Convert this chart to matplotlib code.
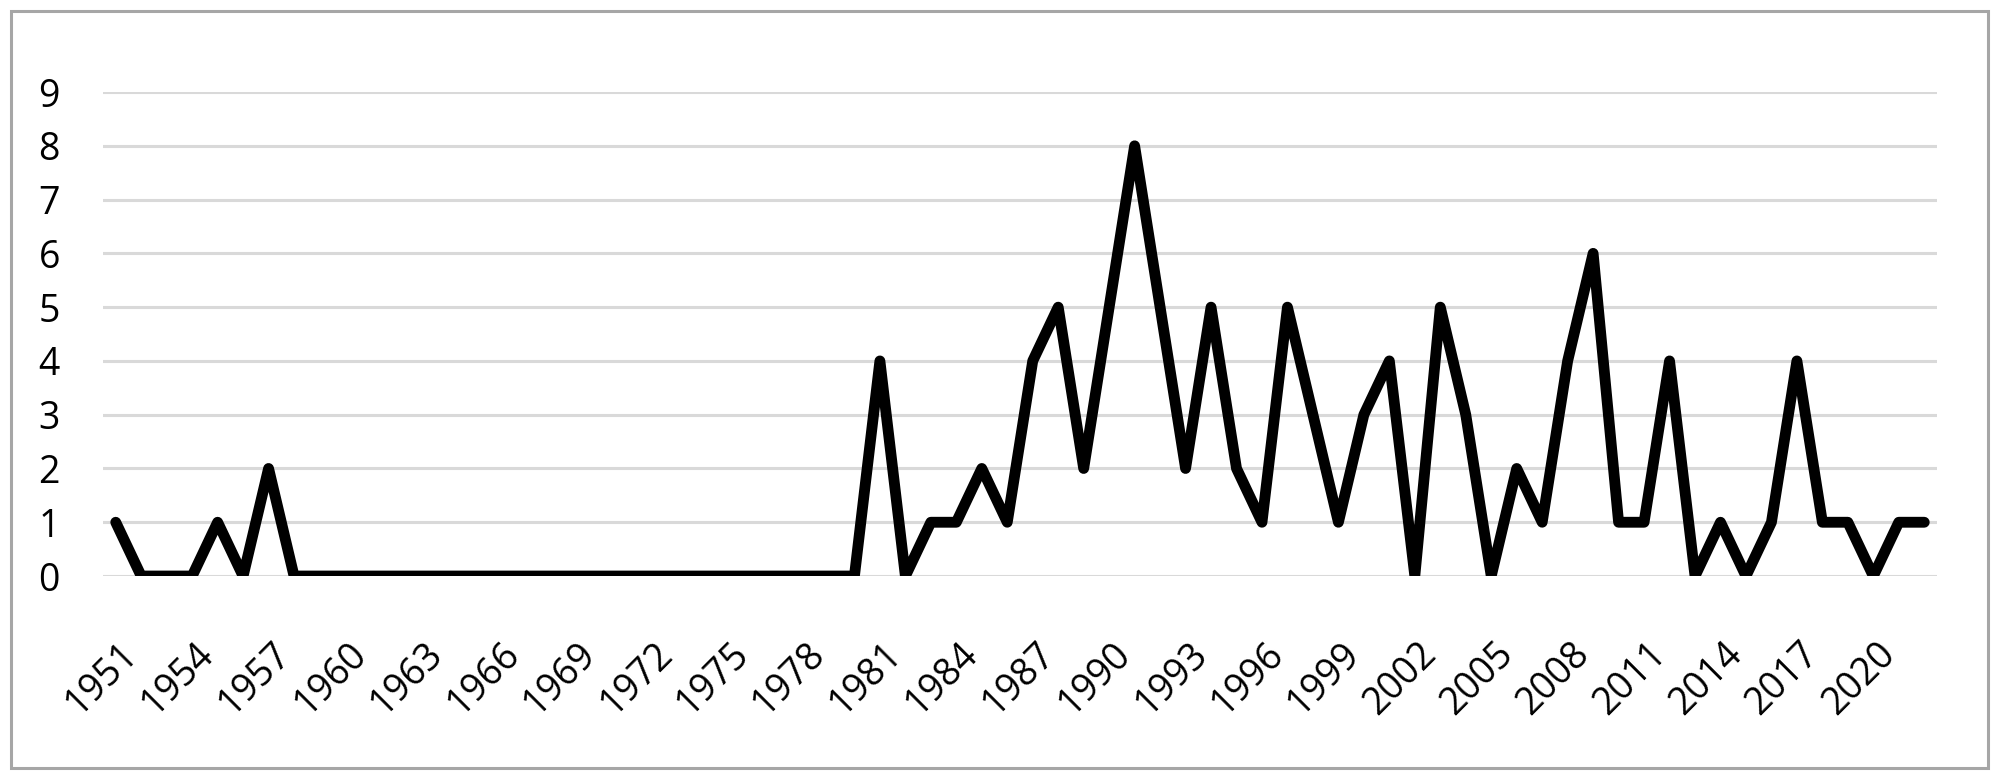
import matplotlib.pyplot as plt
from matplotlib.patches import Rectangle
from matplotlib.transforms import ScaledTranslation

years = list(range(1951, 2023))
counts = [1, 0, 0, 0, 1, 0, 2, 0, 0, 0,
          0, 0, 0, 0, 0, 0, 0, 0, 0, 0,
          0, 0, 0, 0, 0, 0, 0, 0, 0, 0,
          4, 0, 1, 1, 2, 1, 4, 5, 2, 5,
          8, 5, 2, 5, 2, 1, 5, 3, 1, 3,
          4, 0, 5, 3, 0, 2, 1, 4, 6, 1,
          1, 4, 0, 1, 0, 1, 4, 1, 1, 0,
          1, 1]
tick_years = years[::3]
y_ticks = list(range(0, 10))

plt.rcParams['font.family'] = ['Open Sans', 'DejaVu Sans']

fig = plt.figure(figsize=(20, 7.8), dpi=100)
ax = fig.add_axes([0.0515, 0.2615, 0.917, 0.6205])

idx = list(range(len(years)))
ax.plot(idx, counts, color='black', lw=7.8,
        solid_joinstyle='round', solid_capstyle='round', zorder=3)

ax.set_xlim(-0.5, len(years) - 0.5)
ax.set_ylim(0, 9)
ax.set_yticks(y_ticks)
ax.set_yticklabels([str(v) for v in y_ticks], fontsize=27)
ax.set_xticks([years.index(y) for y in tick_years])
ax.set_xticklabels([str(y) for y in tick_years], fontsize=27,
                   rotation=45, ha='right', va='center', rotation_mode='anchor')
ax.tick_params(axis='y', length=0, pad=31)
ax.tick_params(axis='x', length=0, pad=52)
for lab in ax.get_xticklabels():
    lab.set_transform(lab.get_transform() + ScaledTranslation(0.16, 0, fig.dpi_scale_trans))

ax.grid(axis='y', color='#d9d9d9', lw=2.2, zorder=0)
ax.set_axisbelow(True)
for s in ax.spines.values():
    s.set_visible(False)

# outer chart border
fig.patches.append(Rectangle((11 / 2000, 12 / 780), 1977 / 2000, 757 / 780,
                             transform=fig.transFigure, fill=False,
                             edgecolor='#a6a6a6', lw=2.2))

fig.set_facecolor('white')
fig.savefig('out.png', dpi=100)
